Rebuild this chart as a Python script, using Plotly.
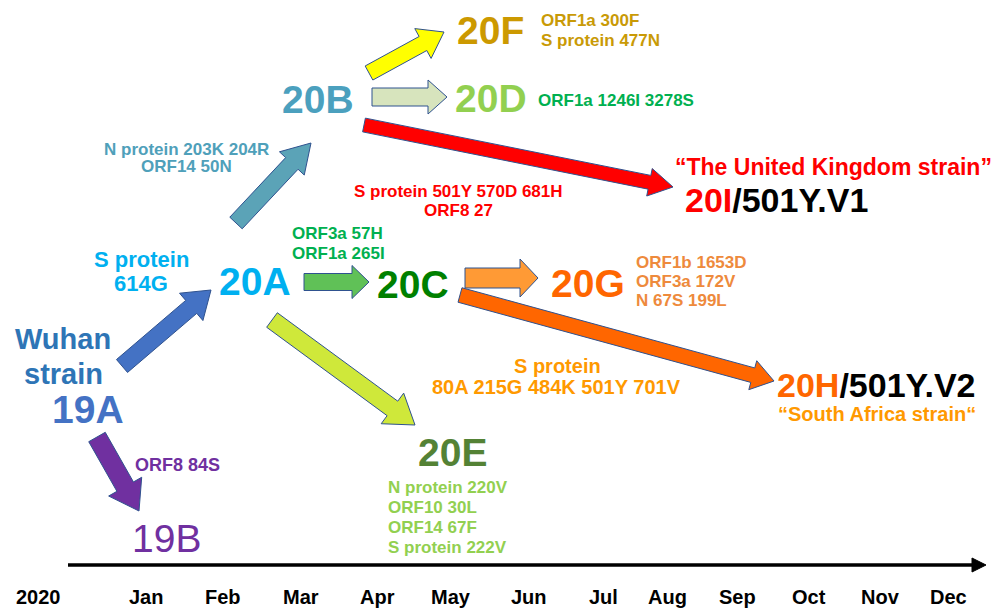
import math
import plotly.graph_objects as go

FONT = "Liberation Sans, Arial, sans-serif"

# ---- timeline axis ----
year_label = "2020"
months = ["Jan", "Feb", "Mar", "Apr", "May", "Jun", "Jul", "Aug", "Sep", "Oct", "Nov", "Dec"]
month_x = [146, 223, 301, 377, 451, 529, 603, 667, 737, 809, 880, 948]

# ---- clade nodes ----
clade_labels = ["19A", "19B", "20A", "20B", "20C", "20D", "20E", "20F", "20G"]
clade_x = [88, 166, 255, 318, 413, 491, 452, 490, 588]
clade_y = [409, 538, 281, 99, 284, 98, 452, 30, 283]
clade_colors = ["#4472C4", "#7030A0", "#00B0F0", "#4BA0BE", "#008000", "#92D050", "#548235", "#CC9900", "#FF6600"]
clade_bold = [True, False, True, True, True, True, True, True, True]

# ---- transitions (arrows): from -> to, colour ----
arrow_from = [(122, 366), (97, 437), (236, 223), (369, 73), (372, 97), (364, 125), (304, 282), (465, 278), (460, 295), (272, 320)]
arrow_to = [(211, 290), (139, 511), (311, 143), (444, 32), (447, 97), (673, 187), (369, 282), (538, 278), (774, 381), (415, 425)]
arrow_colors = ["#4472C4", "#7030A0", "#5BA3B7", "#FFFF00", "#D7E4BD", "#FF0000", "#60C157", "#FF9A35", "#FF6600", "#CFE83A"]
arrow_shaft = [17, 19, 17, 16, 18, 14, 17, 20, 15, 18]
arrow_head = [36, 38, 34, 34, 34, 28, 33, 38, 30, 38]
arrow_headlen = [26, 28, 28, 24, 19, 24, 17, 18, 22, 28]

# ---- mutation labels ----
mut_text = [
    "ORF8 84S",
    "S protein", "614G",
    "N protein 203K 204R", "ORF14 50N",
    "ORF1a 300F", "S protein 477N",
    "ORF1a 1246I 3278S",
    "S protein 501Y 570D 681H", "ORF8 27",
    "ORF3a 57H", "ORF1a 265I",
    "ORF1b 1653D", "ORF3a 172V", "N 67S 199L",
    "S protein", "80A 215G 484K 501Y 701V",
    "N protein 220V", "ORF10 30L", "ORF14 67F", "S protein 222V",
]
mut_x = [133, 141, 141, 186, 186, 539, 539, 536, 458, 458, 290, 290, 634, 634, 634, 557, 556, 386, 386, 386, 386]
mut_y = [465, 259, 283, 149, 166, 20, 40, 100, 191, 210, 233, 253, 262, 281, 300, 366, 387, 487, 507, 527, 547]
mut_anchor = ["left", "center", "center", "center", "center", "left", "left", "left", "center", "center",
              "left", "left", "left", "left", "left", "center", "center", "left", "left", "left", "left"]
mut_size = [18, 22, 22, 17, 17, 17, 17, 17, 17, 17, 17, 17, 17, 17, 17, 20, 20, 17, 17, 17, 17]
mut_color = ["#7030A0", "#00B0F0", "#00B0F0", "#4FA0BA", "#4FA0BA", "#C99A06", "#C99A06", "#00B050",
             "#FF0000", "#FF0000", "#00B050", "#00B050", "#EE8A3C", "#EE8A3C", "#EE8A3C",
             "#FF9900", "#FF9900", "#92D050", "#92D050", "#92D050", "#92D050"]

# ---- named strains ----
strain_text = [
    "Wuhan", "strain",
    "\u201cThe United Kingdom strain\u201d",
    "<span style='color:#FF0000'>20I</span>/501Y.V1",
    "<span style='color:#FF6600'>20H</span>/501Y.V2",
    "\u201cSouth Africa strain\u201c",
]
strain_x = [63, 63, 833, 683, 775, 877]
strain_y = [339, 374, 167, 200, 385, 414]
strain_anchor = ["center", "center", "center", "left", "left", "center"]
strain_size = [29, 29, 23, 34, 34, 20]
strain_color = ["#2E75B6", "#2E75B6", "#FF0000", "#000000", "#000000", "#FF9900"]


def arrow_poly(p0, p1, sw, hw, hl):
    x0, y0 = p0
    x1, y1 = p1
    dx, dy = x1 - x0, y1 - y0
    L = math.hypot(dx, dy)
    ux, uy = dx / L, dy / L
    nx, ny = -uy, ux
    bx, by = x1 - ux * hl, y1 - uy * hl
    pts = [
        (x0 + nx * sw / 2, y0 + ny * sw / 2),
        (bx + nx * sw / 2, by + ny * sw / 2),
        (bx + nx * hw / 2, by + ny * hw / 2),
        (x1, y1),
        (bx - nx * hw / 2, by - ny * hw / 2),
        (bx - nx * sw / 2, by - ny * sw / 2),
        (x0 - nx * sw / 2, y0 - ny * sw / 2),
    ]
    pts.append(pts[0])
    return [p[0] for p in pts], [p[1] for p in pts]


fig = go.Figure()

# block arrows
for i in range(len(arrow_from)):
    xs, ys = arrow_poly(arrow_from[i], arrow_to[i], arrow_shaft[i], arrow_head[i], arrow_headlen[i])
    fig.add_trace(go.Scatter(x=xs, y=ys, mode="lines", fill="toself",
                             fillcolor=arrow_colors[i],
                             line=dict(color="#2F528F", width=1),
                             hoverinfo="skip", showlegend=False))

# timeline
fig.add_trace(go.Scatter(x=[68, 975], y=[565, 565], mode="lines",
                         line=dict(color="black", width=3.5),
                         hoverinfo="skip", showlegend=False))
fig.add_trace(go.Scatter(x=[972, 986, 972, 972], y=[558, 565, 572, 558], mode="lines",
                         fill="toself", fillcolor="black", line=dict(color="black", width=1),
                         hoverinfo="skip", showlegend=False))

annotations = []


def add_text(text, x, y, size, color, anchor="center", bold=True):
    annotations.append(dict(
        x=x, y=y, xref="x", yref="y", text=("<b>%s</b>" % text) if bold else text,
        showarrow=False, xanchor=anchor, yanchor="middle",
        font=dict(family=FONT, size=size, color=color),
    ))


add_text(year_label, 38, 597, 20, "#000000")
for m, mx in zip(months, month_x):
    add_text(m, mx, 597, 20, "#000000")

for lab, x, y, c, b in zip(clade_labels, clade_x, clade_y, clade_colors, clade_bold):
    add_text(lab, x, y, 39, c, "center", b)

for t, x, y, a, s, c in zip(mut_text, mut_x, mut_y, mut_anchor, mut_size, mut_color):
    add_text(t, x, y, s, c, a)

for t, x, y, a, s, c in zip(strain_text, strain_x, strain_y, strain_anchor, strain_size, strain_color):
    add_text(t, x, y, s, c, a)

fig.update_layout(
    width=1007, height=609,
    margin=dict(l=0, r=0, t=0, b=0),
    paper_bgcolor="white", plot_bgcolor="white",
    xaxis=dict(range=[0, 1007], visible=False, fixedrange=True),
    yaxis=dict(range=[609, 0], visible=False, fixedrange=True),
    annotations=annotations,
    showlegend=False,
)

fig.write_html("out.html", config={"displayModeBar": False},
               post_script="document.body.style.margin='0';document.body.style.overflow='hidden';")
